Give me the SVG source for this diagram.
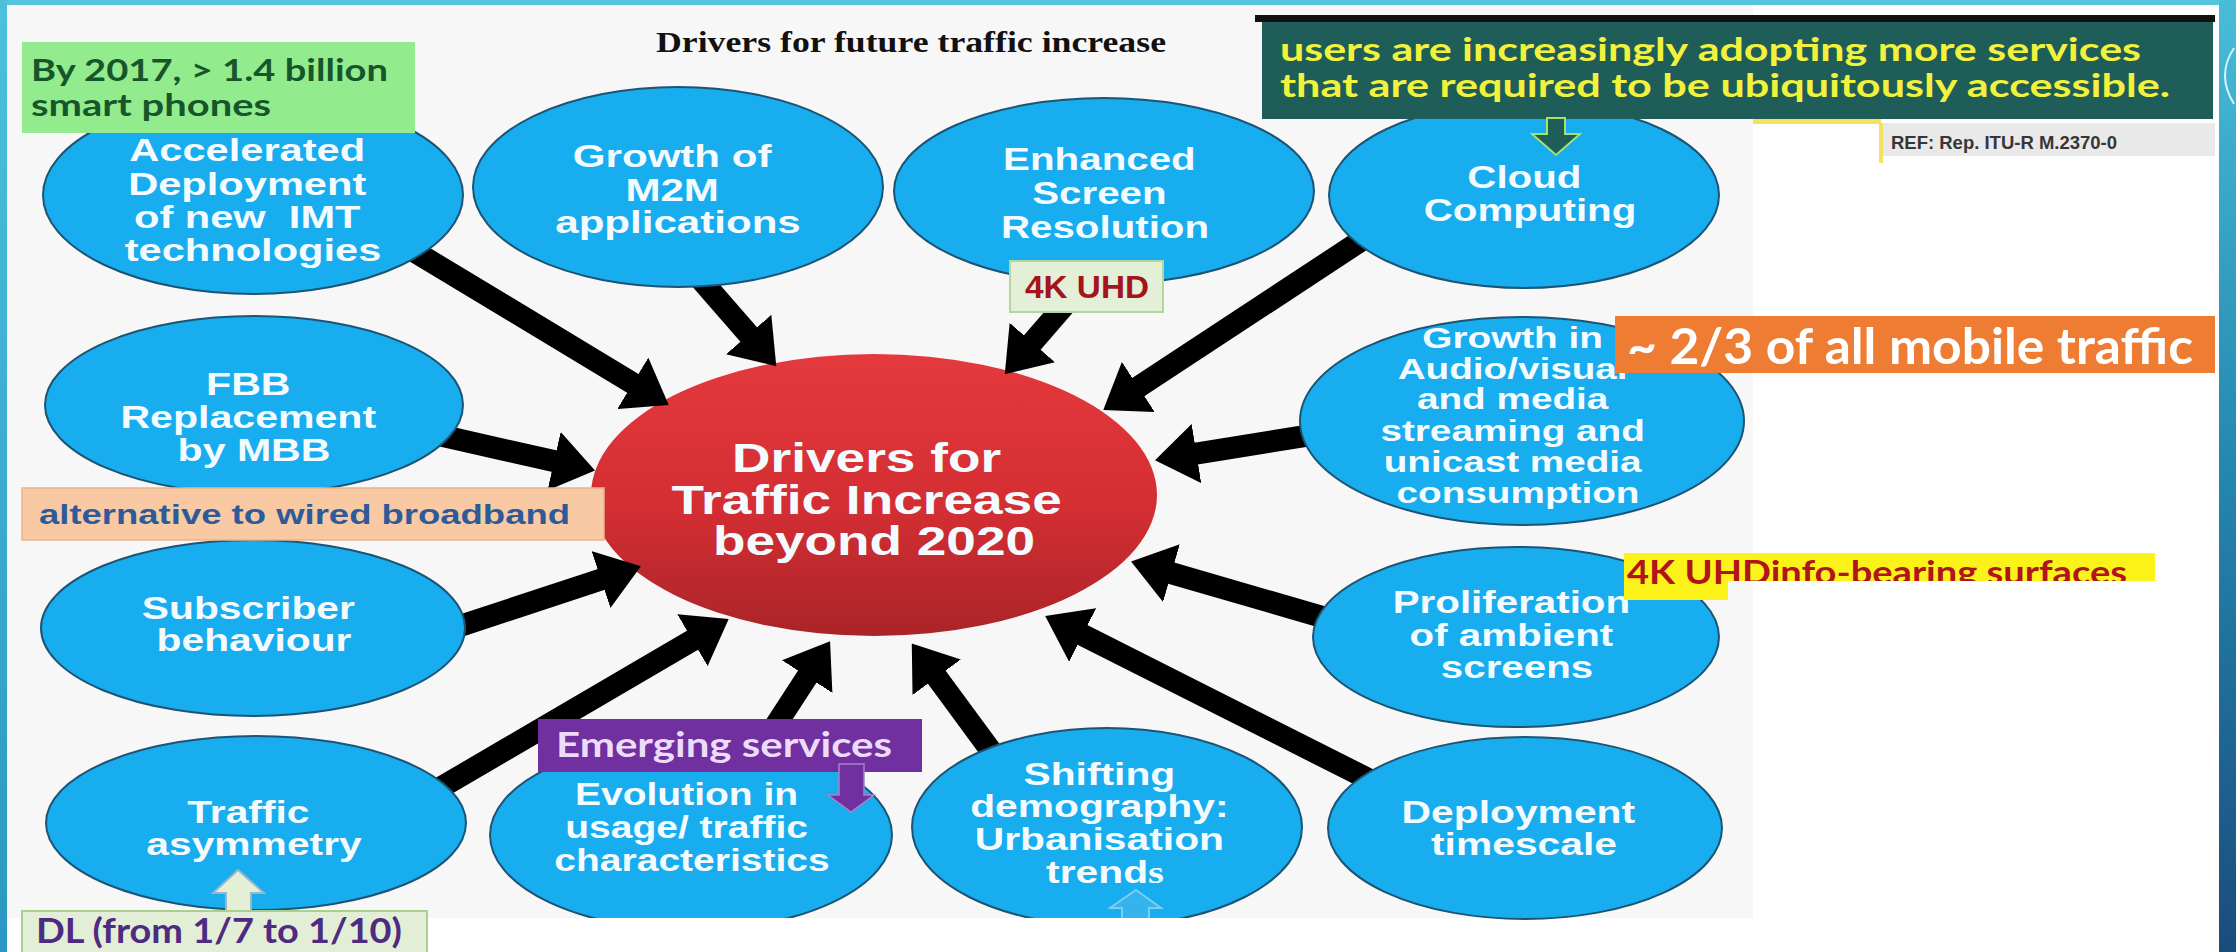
<svg xmlns="http://www.w3.org/2000/svg" width="2236" height="952" viewBox="0 0 2236 952">
  <defs>
    <style>
      .node ellipse { fill: #17adef; stroke: #1d5474; stroke-width: 2; }
      .nt { font-family: "Liberation Sans", Arial, sans-serif; font-weight: 700; font-size: 32px; fill: #f4fbff; text-anchor: middle; }
      .co { font-family: Lato, "Open Sans", sans-serif; font-weight: 700; }
      .conn line { stroke: #000; stroke-width: 22; marker-end: url(#head); }
    </style>
    <marker id="head" viewBox="0 0 42 60" markerUnits="userSpaceOnUse" markerWidth="42" markerHeight="60" refX="2" refY="30" orient="auto">
      <path d="M0,0 L42,30 L0,60 Z" fill="#000"/>
    </marker>
    <linearGradient id="redFill" x1="0" y1="0" x2="0" y2="1">
      <stop offset="0" stop-color="#e4393d"/>
      <stop offset="0.55" stop-color="#d32e33"/>
      <stop offset="1" stop-color="#aa2428"/>
    </linearGradient>
    <linearGradient id="leftBand" x1="0" y1="0" x2="0" y2="1">
      <stop offset="0" stop-color="#4cc0dc"/>
      <stop offset="1" stop-color="#2a98c2"/>
    </linearGradient>
    <linearGradient id="rightBand" x1="0" y1="0" x2="0" y2="1">
      <stop offset="0" stop-color="#48bdd8"/>
      <stop offset="0.5" stop-color="#2486b0"/>
      <stop offset="1" stop-color="#1a4c7c"/>
    </linearGradient>
    <clipPath id="clipBottom">
      <rect x="0" y="0" width="2236" height="918"/>
    </clipPath>
    <clipPath id="clipYellow">
      <rect x="1624" y="553" width="104" height="47"/>
      <rect x="1728" y="553" width="427" height="28"/>
    </clipPath>
  </defs>

  <!-- page and frame -->
  <rect x="0" y="0" width="2236" height="952" fill="#ffffff"/>
  <rect x="7" y="5" width="1746" height="913" fill="#f7f7f7"/>
  <rect x="0" y="0" width="2236" height="5" fill="#56c4dd"/>
  <rect x="0" y="0" width="7" height="952" fill="url(#leftBand)"/>
  <rect x="2219" y="0" width="17" height="952" fill="url(#rightBand)"/>
  <path d="M2234,48 Q2216,75 2234,104" fill="none" stroke="#d6f1f8" stroke-width="2"/>

  <!-- heading -->
  <text x="656" y="52" textLength="510" lengthAdjust="spacingAndGlyphs" font-family="'Liberation Serif', 'Times New Roman', serif" font-weight="700" font-size="29" fill="#111">Drivers for future traffic increase</text>

  <!-- central node -->
  <g id="n-center">
    <ellipse cx="874" cy="495" rx="283" ry="141" fill="url(#redFill)"/>
    <text class="nt" style="font-size:40px" transform="translate(874 0) scale(1.33 1)">
      <tspan x="0" y="472">Drivers for</tspan>
      <tspan x="0" y="514">Traffic Increase</tspan>
      <tspan x="0" y="555">beyond 2020</tspan>
    </text>
  </g>

  <!-- connectors: each runs from a driver into the central node -->
  <g id="connectors" class="conn">
    <line x1="407" y1="247" x2="634.5" y2="384.3"/>
    <line x1="689" y1="266" x2="750" y2="336"/>
    <line x1="1073.7" y1="294.8" x2="1031" y2="344"/>
    <line x1="1378.7" y1="229" x2="1136.7" y2="388.1"/>
    <line x1="1324.7" y1="432.8" x2="1194.5" y2="453.9"/>
    <line x1="1338.2" y1="621.6" x2="1169.5" y2="572.6"/>
    <line x1="1389.9" y1="790" x2="1080.9" y2="634.1"/>
    <line x1="1002.9" y1="767.1" x2="935.5" y2="675.6"/>
    <line x1="770.1" y1="733.8" x2="808.3" y2="674.9"/>
    <line x1="417.7" y1="801.1" x2="694.2" y2="639.2"/>
    <line x1="444" y1="631.3" x2="602.9" y2="578.9"/>
    <line x1="436.5" y1="434.6" x2="556" y2="461.6"/>
  </g>

  <!-- driver nodes -->
  <g id="n-imt" class="node">
    <ellipse cx="253" cy="195" rx="210" ry="99"/>
    <text class="nt" transform="translate(253 0) scale(1.3 1)">
      <tspan x="0" y="161">Accelerated</tspan>
      <tspan x="0" y="195">Deployment</tspan>
      <tspan x="0" y="228">of new&#160; IMT</tspan>
      <tspan x="0" y="261">technologies</tspan>
    </text>
  </g>

  <g id="n-m2m" class="node">
    <ellipse cx="678" cy="187" rx="205" ry="100"/>
    <text class="nt" transform="translate(678 0) scale(1.316 1)">
      <tspan x="0" y="167">Growth of</tspan>
      <tspan x="0" y="201">M2M</tspan>
      <tspan x="0" y="233">applications</tspan>
    </text>
  </g>

  <g id="n-resolution" class="node">
    <ellipse cx="1104" cy="191" rx="210" ry="93"/>
    <text class="nt" transform="translate(1105 0) scale(1.26 1)">
      <tspan x="0" y="170">Enhanced</tspan>
      <tspan x="0" y="204">Screen</tspan>
      <tspan x="0" y="238">Resolution</tspan>
    </text>
  </g>

  <g id="n-cloud" class="node">
    <ellipse cx="1524" cy="195" rx="195" ry="93"/>
    <text class="nt" transform="translate(1530 0) scale(1.26 1)">
      <tspan x="0" y="188">Cloud</tspan>
      <tspan x="0" y="221">Computing</tspan>
    </text>
  </g>

  <g id="n-media" class="node">
    <ellipse cx="1522" cy="421" rx="222" ry="104"/>
    <text class="nt" style="font-size:30px" transform="translate(1518 0) scale(1.29 1)">
      <tspan x="0" y="348">Growth in</tspan>
      <tspan x="0" y="379">Audio/visual</tspan>
      <tspan x="0" y="409">and media</tspan>
      <tspan x="0" y="441">streaming and</tspan>
      <tspan x="0" y="472">unicast media</tspan>
      <tspan x="0" y="503">consumption</tspan>
    </text>
  </g>

  <g id="n-screens" class="node">
    <ellipse cx="1516" cy="637" rx="203" ry="90"/>
    <text class="nt" transform="translate(1517 0) scale(1.26 1)">
      <tspan x="0" y="613">Proliferation</tspan>
      <tspan x="0" y="646">of ambient</tspan>
      <tspan x="0" y="678">screens</tspan>
    </text>
  </g>

  <g id="n-timescale" class="node">
    <ellipse cx="1525" cy="828" rx="197" ry="91"/>
    <text class="nt" transform="translate(1524 0) scale(1.275 1)">
      <tspan x="0" y="823">Deployment</tspan>
      <tspan x="0" y="855">timescale</tspan>
    </text>
  </g>

  <g id="n-demography" class="node">
    <ellipse cx="1107" cy="827" rx="195" ry="99" clip-path="url(#clipBottom)"/>
    <text class="nt" transform="translate(1105 0) scale(1.275 1)">
      <tspan x="0" y="785">Shifting</tspan>
      <tspan x="0" y="817">demography:</tspan>
      <tspan x="0" y="850">Urbanisation</tspan>
      <tspan x="0" y="883">trend<tspan font-family="'Liberation Serif', 'Times New Roman', serif">s</tspan></tspan>
    </text>
    <polygon points="1136,890 1161,908 1149,908 1149,922 1122,922 1122,908 1110,908" fill="#34b4ef" stroke="#7fcdf2" stroke-width="2" clip-path="url(#clipBottom)"/>
  </g>

  <g id="n-usage" class="node">
    <ellipse cx="691" cy="835" rx="201" ry="95" clip-path="url(#clipBottom)"/>
    <text class="nt" style="font-size:31px" transform="translate(692 0) scale(1.258 1)">
      <tspan x="0" y="805">Evolution in</tspan>
      <tspan x="0" y="838">usage/ traffic</tspan>
      <tspan x="0" y="871">characteristics</tspan>
    </text>
  </g>

  <g id="n-asymmetry" class="node">
    <ellipse cx="256" cy="823" rx="210" ry="87"/>
    <text class="nt" transform="translate(254 0) scale(1.275 1)">
      <tspan x="0" y="823">Traffic</tspan>
      <tspan x="0" y="855">asymmetry</tspan>
    </text>
  </g>

  <g id="n-subscriber" class="node">
    <ellipse cx="253" cy="628" rx="212" ry="88"/>
    <text class="nt" transform="translate(254 0) scale(1.275 1)">
      <tspan x="0" y="619">Subscriber</tspan>
      <tspan x="0" y="651">behaviour</tspan>
    </text>
  </g>

  <g id="n-fbb" class="node">
    <ellipse cx="254" cy="405" rx="209" ry="89"/>
    <text class="nt" transform="translate(254 0) scale(1.284 1)">
      <tspan x="0" y="395">FBB</tspan>
      <tspan x="0" y="428">Replacement</tspan>
      <tspan x="0" y="461">by MBB</tspan>
    </text>
  </g>

  <!-- annotation boxes -->
  <g id="c-smartphones">
    <rect x="22" y="42" width="393" height="91" fill="#92ec8e"/>
    <text class="co" font-size="31" fill="#17562b">
      <tspan x="31" y="81" textLength="357" lengthAdjust="spacingAndGlyphs">By 2017, &gt; 1.4 billion</tspan>
      <tspan x="31" y="116" textLength="240" lengthAdjust="spacingAndGlyphs">smart phones</tspan>
    </text>
  </g>

  <g id="c-ubiquitous">
    <rect x="1255" y="15" width="960" height="7" fill="#111"/>
    <rect x="1262" y="22" width="951" height="97" fill="#1e5d58"/>
    <text class="co" font-size="32" fill="#f2f23c">
      <tspan x="1280" y="61" textLength="861" lengthAdjust="spacingAndGlyphs">users are increasingly adopting more services</tspan>
      <tspan x="1280" y="97" textLength="890" lengthAdjust="spacingAndGlyphs">that are required to be ubiquitously accessible.</tspan>
    </text>
    <polygon points="1547,118 1565,118 1565,134 1580,134 1556,155 1532,134 1547,134" fill="#1e5d58" stroke="#a6e070" stroke-width="2"/>
  </g>

  <g id="c-ref">
    <rect x="1753" y="119" width="128" height="5" fill="#f3e35a"/>
    <rect x="1880" y="123" width="335" height="33" fill="#e9e9e9"/>
    <rect x="1879" y="123" width="4" height="40" fill="#f3e35a"/>
    <text x="1891" y="149" textLength="226" lengthAdjust="spacingAndGlyphs" font-family="'Liberation Sans', Arial, sans-serif" font-weight="700" font-size="18" fill="#363636">REF: Rep. ITU-R M.2370-0</text>
  </g>

  <g id="c-4k">
    <rect x="1010" y="261" width="153" height="51" fill="#e3efd7" stroke="#b4d59c" stroke-width="2"/>
    <text x="1025" y="298" textLength="124" lengthAdjust="spacingAndGlyphs" font-family="'Liberation Sans', Arial, sans-serif" font-weight="700" font-size="32" fill="#a3141c">4K UHD</text>
  </g>

  <g id="c-share">
    <rect x="1615" y="316" width="600" height="57" fill="#ef7c33"/>
    <text class="co" x="1627" y="364" textLength="566" lengthAdjust="spacingAndGlyphs" font-size="50" fill="#ffffff">~ 2/3 of all mobile traffic</text>
  </g>

  <g id="c-surfaces">
    <rect x="1624" y="553" width="104" height="47" fill="#fbf21a"/>
    <rect x="1728" y="553" width="427" height="28" fill="#fbf21a"/>
    <text class="co" x="1627" y="584" textLength="500" lengthAdjust="spacingAndGlyphs" font-size="32" fill="#b0141c" clip-path="url(#clipYellow)">4K UHDinfo-bearing surfaces</text>
  </g>

  <g id="c-broadband">
    <rect x="22" y="488" width="582" height="52" fill="#f8c9a3" stroke="#eab48a" stroke-width="1.5"/>
    <text x="39" y="524" textLength="531" lengthAdjust="spacingAndGlyphs" font-family="'Liberation Sans', Arial, sans-serif" font-weight="700" font-size="27" fill="#2d5b9a">alternative to wired broadband</text>
  </g>

  <g id="c-emerging">
    <rect x="538" y="719" width="384" height="53" fill="#7030a0"/>
    <text class="co" x="556" y="757" textLength="336" lengthAdjust="spacingAndGlyphs" font-size="34" fill="#ecdcfa">Emerging services</text>
    <polygon points="839,764 864,764 864,795 874,795 851,812 828,795 839,795" fill="#7030a0" stroke="#a483cc" stroke-width="1.5"/>
  </g>

  <g id="c-downlink">
    <polygon points="238,870 264,893 251,893 251,912 226,912 226,893 213,893" fill="#e4f0d6" stroke="#9cb6c8" stroke-width="2"/>
    <rect x="22" y="911" width="405" height="47" fill="#e2efd6" stroke="#a9d08e" stroke-width="2"/>
    <text class="co" x="36" y="943" textLength="366" lengthAdjust="spacingAndGlyphs" font-size="34" fill="#4e2a80">DL (from 1/7 to 1/10)</text>
  </g>
</svg>
